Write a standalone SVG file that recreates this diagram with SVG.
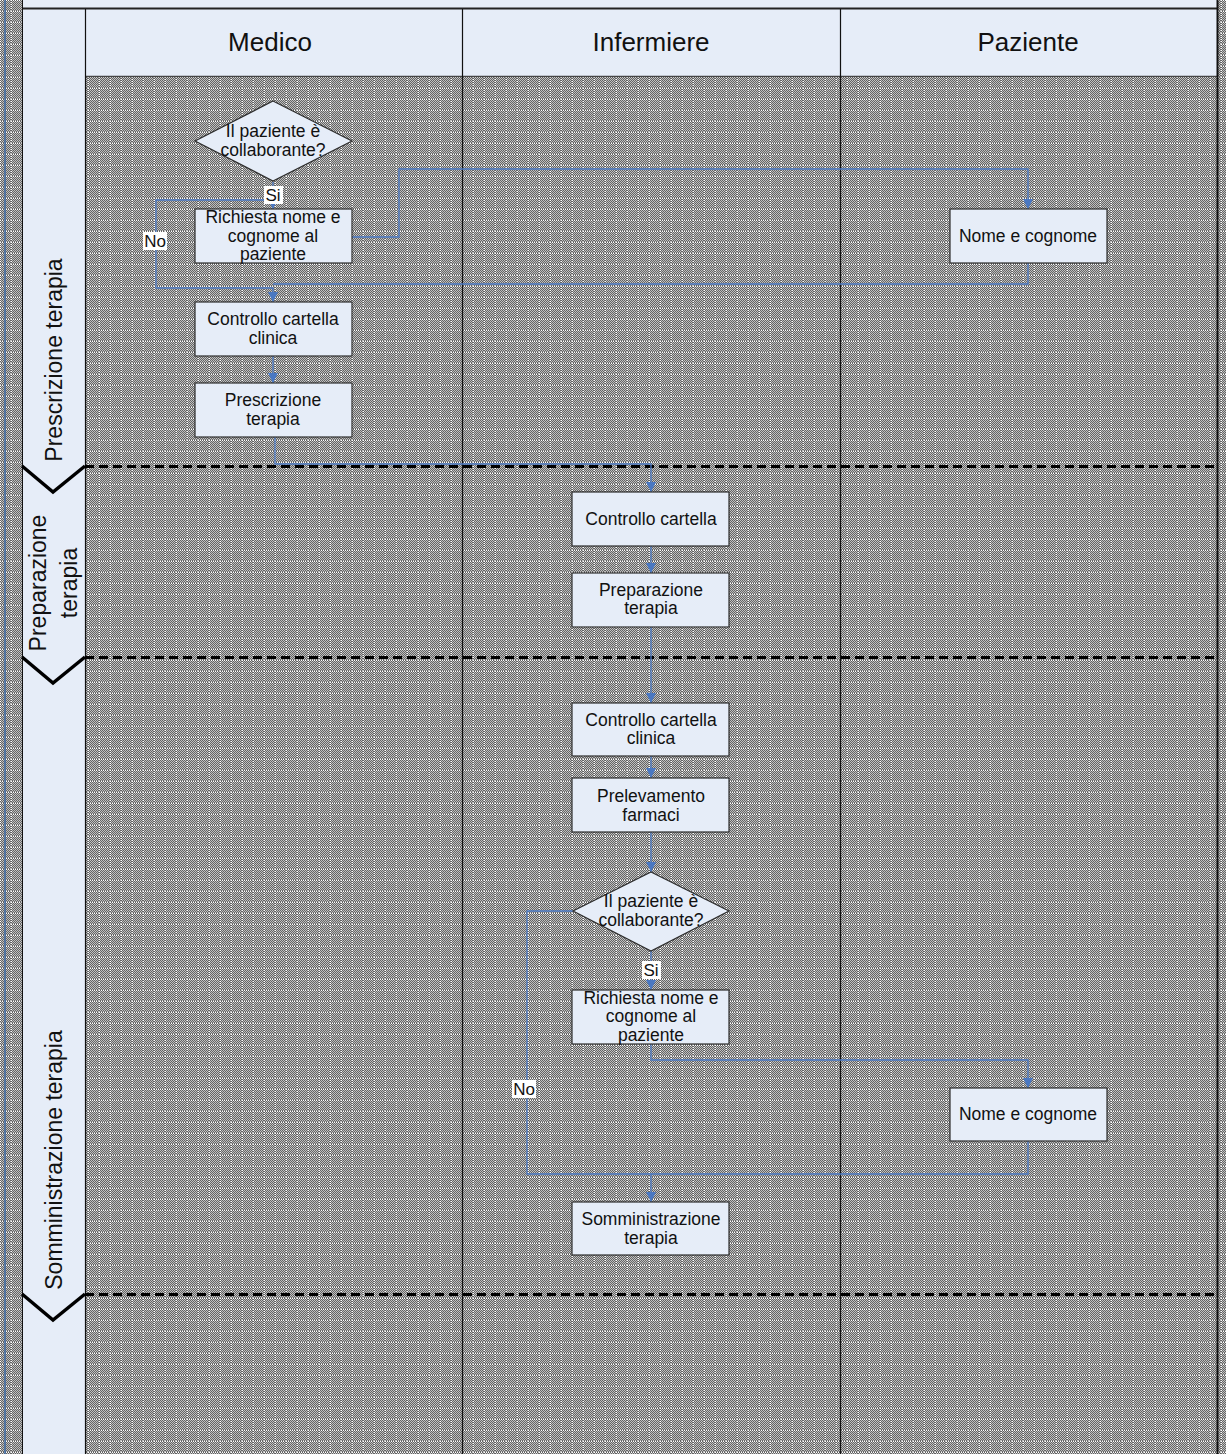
<svg xmlns="http://www.w3.org/2000/svg" width="1226" height="1454" viewBox="0 0 1226 1454">
  <defs>
    <!-- fine 1px checker used as lane texture -->
    <pattern id="chk" width="2" height="2" patternUnits="userSpaceOnUse">
      <rect width="2" height="2" fill="#646464"/>
      <rect x="0" y="0" width="1" height="1" fill="#c0c0c0"/>
      <rect x="1" y="1" width="1" height="1" fill="#c0c0c0"/>
    </pattern>
    <!-- checker plus a sparse dotted white grid -->
    <pattern id="grid" width="11" height="11" patternUnits="userSpaceOnUse">
      <rect width="11" height="11" fill="url(#chk)"/>
      <g fill="#ffffff">
        <rect x="0" y="0" width="1" height="1"/>
        <rect x="0" y="2" width="1" height="1"/>
        <rect x="0" y="4" width="1" height="1"/>
        <rect x="0" y="6" width="1" height="1"/>
        <rect x="0" y="8" width="1" height="1"/>
        <rect x="2" y="0" width="1" height="1"/>
        <rect x="4" y="0" width="1" height="1"/>
        <rect x="6" y="0" width="1" height="1"/>
        <rect x="8" y="0" width="1" height="1"/>
      </g>
    </pattern>
    <marker id="arr" viewBox="0 0 10 10" refX="10" refY="5" markerWidth="10" markerHeight="11" markerUnits="userSpaceOnUse" orient="auto">
      <path d="M0,0 L10,5 L0,10 z" fill="#4a78c2"/>
    </marker>
    <style>
      .node { fill: #e6edf8; stroke: #2e2e2e; stroke-width: 1.2; }
      .t { font-family: "Liberation Sans", Arial, sans-serif; font-size: 17.5px; fill: #111; text-anchor: middle; }
      .hdr { font-family: "Liberation Sans", Arial, sans-serif; font-size: 26px; fill: #111; text-anchor: middle; }
      .ph { font-family: "Liberation Sans", Arial, sans-serif; font-size: 23px; fill: #111; text-anchor: middle; }
      .lbl { font-family: "Liberation Sans", Arial, sans-serif; font-size: 17px; fill: #111; text-anchor: middle; }
      .c { fill: none; stroke: #4a78c2; stroke-width: 1.3; }
      .ca { fill: none; stroke: #4a78c2; stroke-width: 1.3; marker-end: url(#arr); }
      .sep { stroke: #000; stroke-width: 3; stroke-dasharray: 9 5; fill: none; }
      .chev { stroke: #000; stroke-width: 3.5; fill: none; stroke-linejoin: miter; }
    </style>
  </defs>

  <!-- canvas texture -->
  <rect x="0" y="0" width="1226" height="1454" fill="url(#grid)"/>
  <line x1="5" y1="0" x2="5" y2="1454" stroke="#3d6aa3" stroke-width="1.5"/>

  <!-- pool frame: top strip, header row, phase column -->
  <g id="pool">
    <rect x="22" y="0" width="1195" height="8" fill="#e6edf8"/>
    <rect x="22" y="8" width="63" height="1446" fill="#e6edf8"/>
    <rect x="85" y="9" width="1132" height="67" fill="#e6edf8"/>
    <line x1="22" y1="8.5" x2="1218" y2="8.5" stroke="#222" stroke-width="2"/>
    <line x1="85" y1="76.5" x2="1217" y2="76.5" stroke="#444" stroke-width="1.5"/>
    <line x1="22.5" y1="0" x2="22.5" y2="1454" stroke="#111" stroke-width="1"/>
    <line x1="85.5" y1="9" x2="85.5" y2="1454" stroke="#111" stroke-width="1.2"/>
    <line x1="462.5" y1="9" x2="462.5" y2="1454" stroke="#111" stroke-width="1.2"/>
    <line x1="840.5" y1="9" x2="840.5" y2="1454" stroke="#111" stroke-width="1.2"/>
    <line x1="1217.5" y1="0" x2="1217.5" y2="1454" stroke="#111" stroke-width="2"/>
  </g>

  <!-- lane headers -->
  <g id="lane-medico"><text class="hdr" x="270" y="51">Medico</text></g>
  <g id="lane-infermiere"><text class="hdr" x="651" y="51">Infermiere</text></g>
  <g id="lane-paziente"><text class="hdr" x="1028" y="51">Paziente</text></g>

  <!-- phase separators -->
  <g id="phases">
    <line class="sep" x1="85" y1="466.5" x2="1217" y2="466.5"/>
    <line class="sep" x1="85" y1="657.5" x2="1217" y2="657.5"/>
    <line class="sep" x1="85" y1="1294.5" x2="1217" y2="1294.5"/>
    <polyline class="chev" points="22,466 53,492 85,466"/>
    <polyline class="chev" points="22,657 53,683 85,657"/>
    <polyline class="chev" points="22,1294 53,1320 85,1294"/>
    <g id="phase-prescrizione"><text class="ph" transform="translate(62,360) rotate(-90)">Prescrizione terapia</text></g>
    <g id="phase-preparazione">
      <text class="ph" transform="translate(46,583) rotate(-90)">Preparazione</text>
      <text class="ph" transform="translate(77,583) rotate(-90)">terapia</text>
    </g>
    <g id="phase-somministrazione"><text class="ph" transform="translate(62,1160) rotate(-90)">Somministrazione terapia</text></g>
  </g>

  <!-- connectors -->
  <g id="connectors">
    <!-- Medico: decision, Si branch -->
    <polyline class="ca" points="273,182 273,209"/>
    <!-- Medico: No branch -->
    <polyline class="ca" points="273,200 156,200 156,288 273,288 273,302"/>
    <!-- request to patient -->
    <polyline class="ca" points="352,237 399,237 399,169 1028,169 1028,209"/>
    <!-- patient answer back -->
    <polyline class="c" points="1028,263 1028,284 273,284"/>
    <polyline class="ca" points="273,356 273,383"/>
    <!-- prescription to nurse -->
    <polyline class="ca" points="275,437 275,464 651,464 651,492"/>
    <polyline class="ca" points="651,546 651,573"/>
    <polyline class="ca" points="651,627 651,703"/>
    <polyline class="ca" points="651,756 651,778"/>
    <polyline class="ca" points="651,832 651,872"/>
    <!-- Infermiere: decision, Si branch -->
    <polyline class="ca" points="651,951 651,990"/>
    <!-- Infermiere: No branch -->
    <polyline class="ca" points="573,911 527,911 527,1174 651,1174 651,1202"/>
    <polyline class="ca" points="651,1044 651,1060 1028,1060 1028,1088"/>
    <polyline class="c" points="1028,1141 1028,1174 651,1174"/>

    <!-- branch labels -->
    <rect x="264" y="186" width="19" height="18" fill="#fff"/>
    <text class="lbl" x="273" y="201">Si</text>
    <rect x="143" y="232" width="24" height="18" fill="#fff"/>
    <text class="lbl" x="155" y="247">No</text>
    <rect x="642" y="961" width="19" height="18" fill="#fff"/>
    <text class="lbl" x="651" y="976">Si</text>
    <rect x="512" y="1080" width="24" height="18" fill="#fff"/>
    <text class="lbl" x="524" y="1095">No</text>
  </g>

  <!-- Medico lane nodes -->
  <g id="m-decision">
    <polygon class="node" points="273,101 352,141 273,181 195,141"/>
    <text class="t" x="273" y="137">Il paziente è</text>
    <text class="t" x="273" y="156">collaborante?</text>
  </g>
  <g id="m-richiesta">
    <rect class="node" x="195" y="209" width="157" height="54"/>
    <text class="t" x="273" y="223">Richiesta nome e</text>
    <text class="t" x="273" y="242">cognome al</text>
    <text class="t" x="273" y="260">paziente</text>
  </g>
  <g id="m-controllo">
    <rect class="node" x="195" y="302" width="157" height="54"/>
    <text class="t" x="273" y="325">Controllo cartella</text>
    <text class="t" x="273" y="344">clinica</text>
  </g>
  <g id="m-prescrizione">
    <rect class="node" x="195" y="383" width="157" height="54"/>
    <text class="t" x="273" y="406">Prescrizione</text>
    <text class="t" x="273" y="425">terapia</text>
  </g>

  <!-- Paziente lane nodes -->
  <g id="p-nome-1">
    <rect class="node" x="950" y="209" width="157" height="54"/>
    <text class="t" x="1028" y="242">Nome e cognome</text>
  </g>
  <g id="p-nome-2">
    <rect class="node" x="950" y="1088" width="157" height="53"/>
    <text class="t" x="1028" y="1120">Nome e cognome</text>
  </g>

  <!-- Infermiere lane nodes -->
  <g id="i-controllo">
    <rect class="node" x="572" y="492" width="157" height="54"/>
    <text class="t" x="651" y="525">Controllo cartella</text>
  </g>
  <g id="i-preparazione">
    <rect class="node" x="572" y="573" width="157" height="54"/>
    <text class="t" x="651" y="596">Preparazione</text>
    <text class="t" x="651" y="614">terapia</text>
  </g>
  <g id="i-controllo-clinica">
    <rect class="node" x="572" y="703" width="157" height="53"/>
    <text class="t" x="651" y="726">Controllo cartella</text>
    <text class="t" x="651" y="744">clinica</text>
  </g>
  <g id="i-prelevamento">
    <rect class="node" x="572" y="778" width="157" height="54"/>
    <text class="t" x="651" y="802">Prelevamento</text>
    <text class="t" x="651" y="821">farmaci</text>
  </g>
  <g id="i-decision">
    <polygon class="node" points="651,872 729,911 651,951 573,911"/>
    <text class="t" x="651" y="907">Il paziente è</text>
    <text class="t" x="651" y="926">collaborante?</text>
  </g>
  <g id="i-richiesta">
    <rect class="node" x="572" y="990" width="157" height="54"/>
    <text class="t" x="651" y="1004">Richiesta nome e</text>
    <text class="t" x="651" y="1022">cognome al</text>
    <text class="t" x="651" y="1041">paziente</text>
  </g>
  <g id="i-somministrazione">
    <rect class="node" x="572" y="1202" width="157" height="53"/>
    <text class="t" x="651" y="1225">Somministrazione</text>
    <text class="t" x="651" y="1244">terapia</text>
  </g>
</svg>
